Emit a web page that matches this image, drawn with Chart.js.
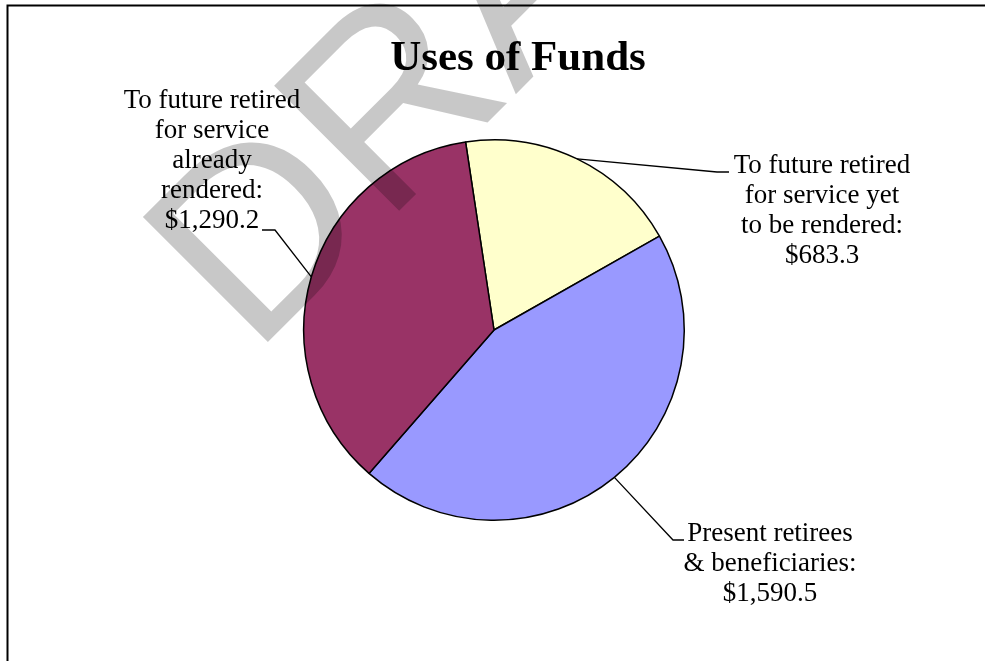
<!DOCTYPE html>
<html lang="en">
<head>
    <meta charset="UTF-8">
    <title>Uses of Funds</title>
    <script src="https://cdn.jsdelivr.net/npm/chart.js"></script>
    <style>
        body { margin: 0; background: #ffffff; }
        #fundsChart { display: block; }
    </style>
</head>
<body>
    <canvas id="fundsChart" width="985" height="661"></canvas>

    <script>
        // chart data
        const categories = [
            ["To future retired", "for service yet", "to be rendered"],
            ["Present retirees", "& beneficiaries"],
            ["To future retired", "for service", "already", "rendered"]
        ];
        const amounts = [683.3, 1590.5, 1290.2];
        const sliceColors = ["#FFFFCC", "#9999FF", "#993366"];
        const chartTitle = "Uses of Funds";
        const watermark = "DRAFT";

        // where each label sits: text centre, first baseline, leader elbow
        const labelLayout = [
            { x: 822, y: 173, elbowX: 717, elbowY: 172, endX: 729 },
            { x: 770, y: 541, elbowX: 673, elbowY: 540, endX: 684 },
            { x: 212, y: 108, elbowX: 275, elbowY: 230, endX: 262 }
        ];
        const lineHeight = 30;

        function formatAmount(v) {
            return "$" + v.toLocaleString("en-US", { minimumFractionDigits: 1, maximumFractionDigits: 1 });
        }

        const pageDecor = {
            id: "pageDecor",
            beforeDraw(chart) {
                const ctx = chart.ctx;
                ctx.save();
                ctx.fillStyle = "#ffffff";
                ctx.fillRect(0, 0, chart.width, chart.height);
                // cropped frame
                ctx.strokeStyle = "#000000";
                ctx.lineWidth = 2;
                ctx.beginPath();
                ctx.moveTo(7.5, chart.height);
                ctx.lineTo(7.5, 5.5);
                ctx.lineTo(chart.width, 5.5);
                ctx.stroke();
                // title
                ctx.fillStyle = "#000000";
                ctx.font = "bold 43px 'Liberation Serif', 'Times New Roman', serif";
                ctx.textAlign = "center";
                ctx.textBaseline = "alphabetic";
                ctx.fillText(chartTitle, 518, 70);
                ctx.restore();
            },
            afterDraw(chart) {
                const ctx = chart.ctx;
                const arcs = chart.getDatasetMeta(0).data;
                ctx.save();
                ctx.strokeStyle = "#000000";
                ctx.lineWidth = 1.3;
                ctx.fillStyle = "#000000";
                ctx.font = "27px 'Liberation Serif', 'Times New Roman', serif";
                ctx.textAlign = "center";
                ctx.textBaseline = "alphabetic";

                arcs.forEach((arc, i) => {
                    const p = arc.getProps(["x", "y", "startAngle", "endAngle", "outerRadius"], true);
                    const mid = (p.startAngle + p.endAngle) / 2;
                    const sx = p.x + Math.cos(mid) * p.outerRadius;
                    const sy = p.y + Math.sin(mid) * p.outerRadius;
                    const lay = labelLayout[i];

                    ctx.beginPath();
                    ctx.moveTo(sx, sy);
                    ctx.lineTo(lay.elbowX, lay.elbowY);
                    ctx.lineTo(lay.endX, lay.elbowY);
                    ctx.stroke();

                    const lines = categories[i].slice();
                    lines[lines.length - 1] += ":";
                    lines.push(formatAmount(amounts[i]));
                    lines.forEach((t, j) => {
                        ctx.fillText(t, lay.x, lay.y + j * lineHeight);
                    });
                });

                // watermark
                ctx.translate(253, 357);
                ctx.rotate(-Math.PI / 4);
                ctx.fillStyle = "rgba(0, 0, 0, 0.215)";
                ctx.font = "257px 'Liberation Sans', Arial, sans-serif";
                ctx.textAlign = "left";
                ctx.fillText(watermark, 0, 0);
                ctx.restore();
            }
        };

        const ctx = document.getElementById("fundsChart").getContext("2d");
        const fundsChart = new Chart(ctx, {
            type: "pie",
            data: {
                labels: categories.map(c => c.join(" ")),
                datasets: [{
                    data: amounts,
                    backgroundColor: sliceColors,
                    borderColor: "#000000",
                    borderWidth: 1.5
                }]
            },
            options: {
                responsive: false,
                animation: false,
                rotation: -8.6,
                layout: {
                    padding: { top: 139, bottom: 140, left: 303, right: 300 }
                },
                plugins: {
                    legend: { display: false },
                    title: { display: false },
                    tooltip: { enabled: false }
                }
            },
            plugins: [pageDecor]
        });
    </script>
</body>
</html>
